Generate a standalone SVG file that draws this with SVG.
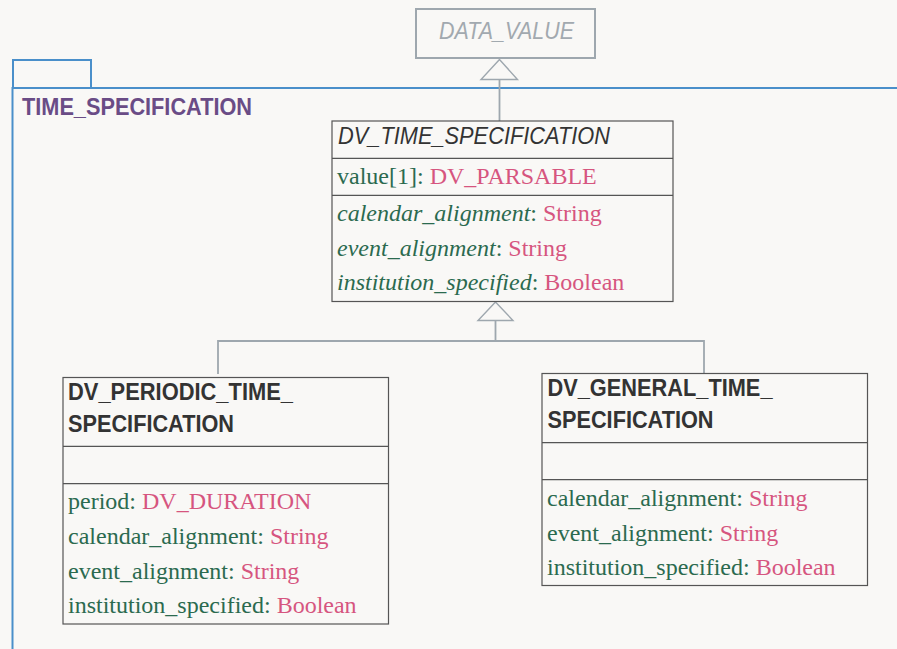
<svg xmlns="http://www.w3.org/2000/svg" width="897" height="649" viewBox="0 0 897 649">
<style>
.bg{fill:#f9f8f6}
.pkg{fill:none;stroke:#4a8fca;stroke-width:2}
.box{fill:#f9f8f6;stroke:#555;stroke-width:1.2}
.div{stroke:#555;stroke-width:1.2}
.ext{fill:#f9f8f6;stroke:#9ea7ae;stroke-width:2}
.conn{fill:none;stroke:#9ea7ae;stroke-width:1.8}
.tri{fill:#f9f8f6;stroke:#9ea7ae;stroke-width:1.4}
.title{font-family:"Liberation Sans",Arial,sans-serif;font-weight:bold;font-size:23px;fill:#333}
.ititle{font-family:"Liberation Sans",Arial,sans-serif;font-style:italic;font-size:23px;fill:#333}
.attr{font-family:"Liberation Serif","Times New Roman",serif;font-size:24px;fill:#2b6a4f}
.ty{fill:#d6557f}
.it{font-style:italic}
</style>
<rect class="bg" x="0" y="0" width="897" height="649"/>
<g id="package">
<rect class="pkg" x="13" y="60" width="78" height="28"/>
<rect class="pkg" x="12.5" y="88" width="900" height="600"/>
<text x="22" y="115" font-family="Liberation Sans,Arial,sans-serif" font-weight="bold" font-size="23" fill="#6a4c86" textLength="230" lengthAdjust="spacingAndGlyphs">TIME_SPECIFICATION</text>
</g>
<g id="connectors">
<path class="conn" d="M499.5 79 V121"/>
<polygon class="tri" points="499.5,59.5 481,79.5 517.5,79.5"/>
<path class="conn" d="M495.5 320.5 V341 M218 374 V341 H704 V373"/>
<polygon class="tri" points="495.5,302 478,320.5 513,320.5"/>
</g>
<g id="DATA_VALUE">
<rect class="ext" x="416" y="9" width="179" height="49"/>
<text x="439" y="39" font-family="Liberation Sans,Arial,sans-serif" font-style="italic" font-size="23" fill="#a2a9af" textLength="135" lengthAdjust="spacingAndGlyphs">DATA_VALUE</text>
</g>
<g id="DV_TIME_SPECIFICATION">
<rect class="box" x="332" y="121" width="341" height="180.5"/>
<line class="div" x1="332" y1="158.3" x2="673" y2="158.3"/>
<line class="div" x1="332" y1="195.3" x2="673" y2="195.3"/>
<text class="ititle" x="338" y="143.5" textLength="272" lengthAdjust="spacingAndGlyphs">DV_TIME_SPECIFICATION</text>
<text class="attr" x="337" y="184">value[1]: <tspan class="ty">DV_PARSABLE</tspan></text>
<text class="attr" x="337" y="221"><tspan class="it">calendar_alignment</tspan>: <tspan class="ty">String</tspan></text>
<text class="attr" x="337" y="256"><tspan class="it">event_alignment</tspan>: <tspan class="ty">String</tspan></text>
<text class="attr" x="337" y="290"><tspan class="it">institution_specified</tspan>: <tspan class="ty">Boolean</tspan></text>
</g>
<g id="DV_PERIODIC_TIME_SPECIFICATION">
<rect class="box" x="63" y="377.5" width="325.5" height="246.5"/>
<line class="div" x1="63" y1="446.3" x2="388.5" y2="446.3"/>
<line class="div" x1="63" y1="483.7" x2="388.5" y2="483.7"/>
<text class="title" x="68" y="400" textLength="225" lengthAdjust="spacingAndGlyphs">DV_PERIODIC_TIME_</text>
<text class="title" x="68" y="431.7" textLength="166" lengthAdjust="spacingAndGlyphs">SPECIFICATION</text>
<text class="attr" x="68" y="509">period: <tspan class="ty">DV_DURATION</tspan></text>
<text class="attr" x="68" y="544">calendar_alignment: <tspan class="ty">String</tspan></text>
<text class="attr" x="68" y="579">event_alignment: <tspan class="ty">String</tspan></text>
<text class="attr" x="68" y="613">institution_specified: <tspan class="ty">Boolean</tspan></text>
</g>
<g id="DV_GENERAL_TIME_SPECIFICATION">
<rect class="box" x="542" y="373.5" width="325.5" height="212"/>
<line class="div" x1="542" y1="442.7" x2="867.5" y2="442.7"/>
<line class="div" x1="542" y1="479.7" x2="867.5" y2="479.7"/>
<text class="title" x="547.5" y="395.5" textLength="225" lengthAdjust="spacingAndGlyphs">DV_GENERAL_TIME_</text>
<text class="title" x="547.5" y="427.5" textLength="166" lengthAdjust="spacingAndGlyphs">SPECIFICATION</text>
<text class="attr" x="547" y="505.7">calendar_alignment: <tspan class="ty">String</tspan></text>
<text class="attr" x="547" y="540.7">event_alignment: <tspan class="ty">String</tspan></text>
<text class="attr" x="547" y="575">institution_specified: <tspan class="ty">Boolean</tspan></text>
</g>
</svg>
